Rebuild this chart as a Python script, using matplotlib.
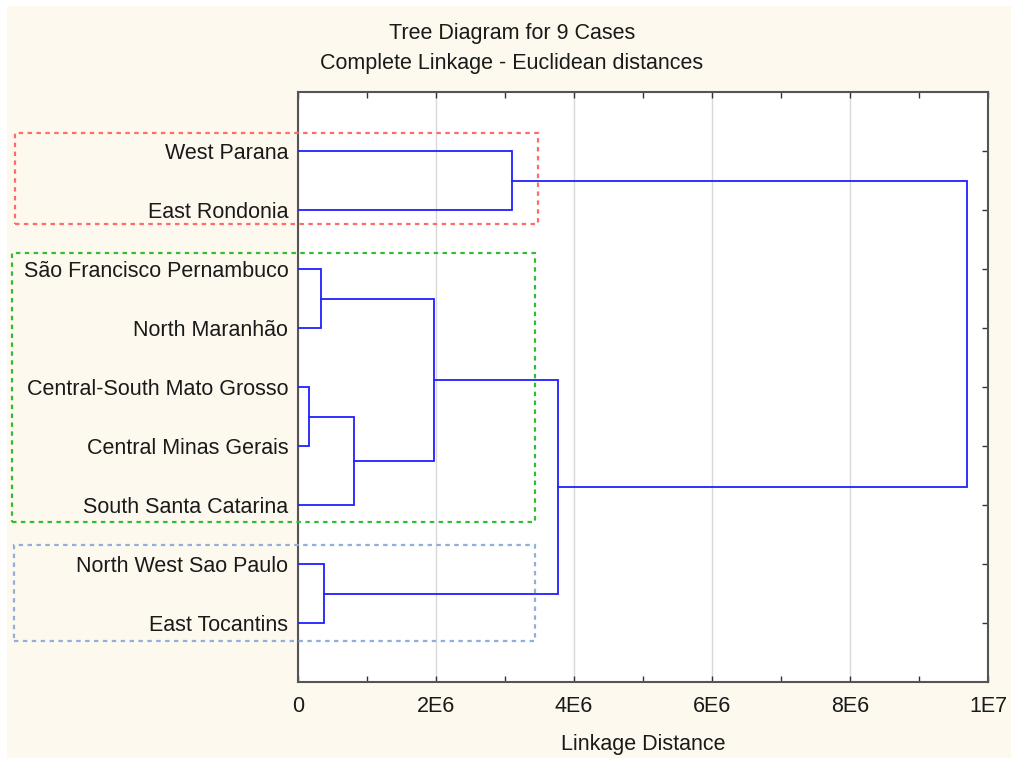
import numpy as np
import matplotlib
matplotlib.use("Agg")
import matplotlib.pyplot as plt
from matplotlib.patches import Rectangle

plt.rcParams['font.family'] = ['Liberation Sans', 'DejaVu Sans']

W, H = 1011, 758

labels = ["West Parana", "East Rondonia", "São Francisco Pernambuco", "North Maranhão",
          "Central-South Mato Grosso", "Central Minas Gerais", "South Santa Catarina",
          "North West Sao Paulo", "East Tocantins"]
# merges: (cluster a, cluster b, linkage distance); new cluster ids start at 9
merge_a = [4, 2, 7, 9, 10, 0, 13, 14]
merge_b = [5, 3, 8, 6, 12, 1, 11, 15]
merge_h = [0.16e6, 0.33e6, 0.38e6, 0.81e6, 1.97e6, 3.10e6, 3.77e6, 9.70e6]

xticks = [0, 2e6, 4e6, 6e6, 8e6, 1e7]
xticklabels = ["0", "2E6", "4E6", "6E6", "8E6", "1E7"]

fig = plt.figure(figsize=(W / 100, H / 100), dpi=100, facecolor="white")
fig.patches.append(Rectangle((7 / W, 0), 1, 1 - 6 / H, transform=fig.transFigure,
                             facecolor="#FEF9EE", edgecolor="none", zorder=-10))

ax = fig.add_axes([298 / W, (H - 682) / H, 690 / W, 590 / H])
ax.set_facecolor("white")

# leaf / cluster positions
ypos = {i: i + 1.0 for i in range(len(labels))}
xpos = {i: 0.0 for i in range(len(labels))}
nid = len(labels)
for a, b, h in zip(merge_a, merge_b, merge_h):
    ax.plot([xpos[a], h, h, xpos[b]], [ypos[a], ypos[a], ypos[b], ypos[b]],
            color="#2020FF", lw=1.3, solid_joinstyle="miter", zorder=3)
    ypos[nid] = (ypos[a] + ypos[b]) / 2
    xpos[nid] = h
    nid += 1

ax.set_xlim(0, 1e7)
ax.set_ylim(10, 0)
ax.set_xticks(xticks)
ax.set_xticklabels(xticklabels)
ax.set_xticks(np.arange(1e6, 1e7, 2e6), minor=True)
ax.set_yticks(range(1, 10))
ax.set_yticklabels(labels)
ax.grid(axis="x", which="major", color="#D8D8D8", lw=1, zorder=0)

ax.tick_params(axis="x", which="both", direction="in", length=4, width=1, color="#333333",
               top=True, labelsize=15.5, labelcolor="#1a1a1a", pad=10)
ax.tick_params(axis="y", direction="in", length=4, width=1, color="#333333",
               left=False, right=True, labelsize=15.5, labelcolor="#1a1a1a", pad=7)
for s in ax.spines.values():
    s.set_color("#555555")
    s.set_linewidth(1.5)

ax.set_xlabel("Linkage Distance", fontsize=15.5, color="#1a1a1a", labelpad=12)

fig.text(512 / W, 1 - 34 / H, "Tree Diagram for 9 Cases", ha="center", va="center",
         fontsize=15.5, color="#1a1a1a")
fig.text(512 / W, 1 - 64 / H, "Complete Linkage - Euclidean distances", ha="center",
         va="center", fontsize=15.5, color="#1a1a1a")

# dashed group boxes (pixel coords)
boxes = [(15, 133, 538, 224, "#FF6B6B"), (12, 253, 535, 522, "#33BB33"),
         (14, 545, 535, 641, "#8FB0DA")]
for x0, y0, x1, y1, c in boxes:
    fig.patches.append(Rectangle((x0 / W, 1 - y1 / H), (x1 - x0) / W, (y1 - y0) / H,
                                 transform=fig.transFigure, fill=False, edgecolor=c,
                                 lw=1.6, linestyle=(0, (2, 2)), zorder=5))

fig.savefig("out.png", dpi=100, facecolor=fig.get_facecolor())
